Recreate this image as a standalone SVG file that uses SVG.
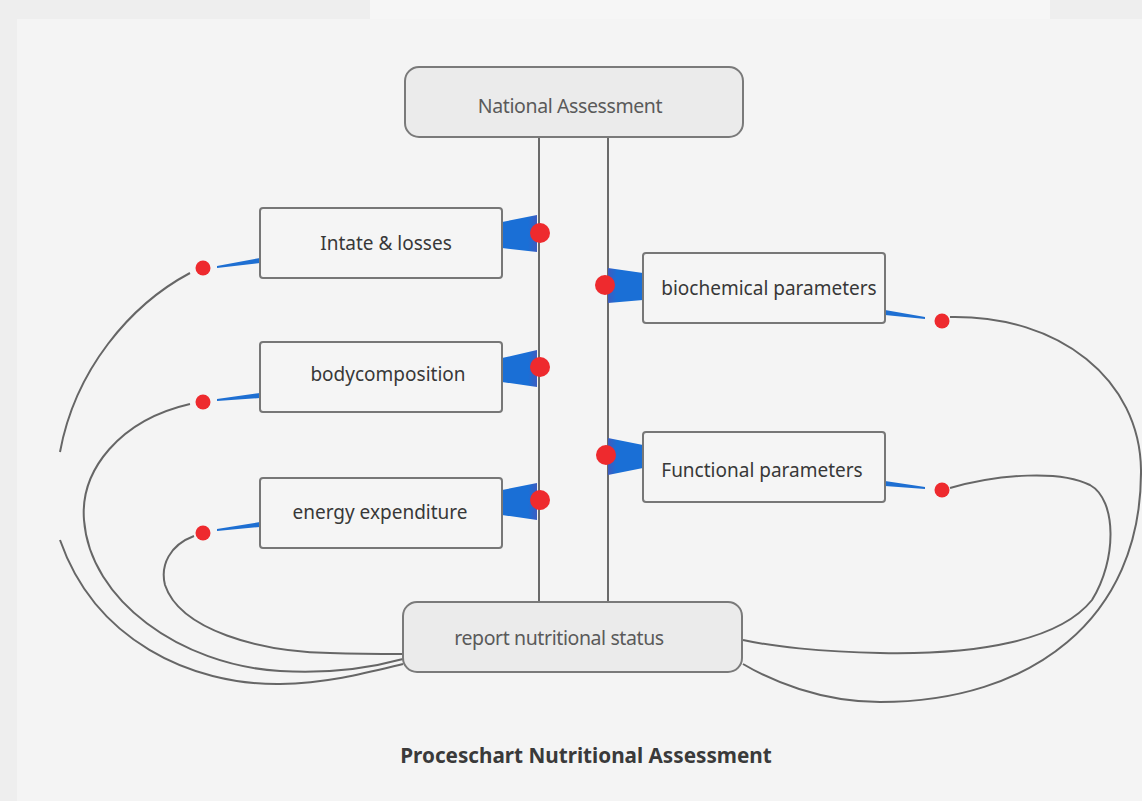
<svg xmlns="http://www.w3.org/2000/svg" width="1142" height="801" viewBox="0 0 1142 801">
<defs>
<style>
.box{fill:#f5f5f5;stroke:#777;stroke-width:2}
.rbox{fill:#ebebeb;stroke:#7a7a7a;stroke-width:2}
.lbl{font-family:"Noto Sans","Open Sans",sans-serif;font-size:19px;fill:#383838;text-anchor:middle}
.rlbl{font-family:"Noto Sans","Open Sans",sans-serif;font-size:19.5px;fill:#5a5a5a;text-anchor:middle;letter-spacing:-0.4px}
.title{font-family:"Noto Sans","Open Sans",sans-serif;font-size:20.7px;font-weight:bold;fill:#3a3a3a;text-anchor:middle}
.trunk{stroke:#6a6a6a;stroke-width:2;fill:none}
.curve{stroke:#666;stroke-width:2;fill:none}
.dotL{fill:#ee2a2e}
.dotS{fill:#ee2a2e}
.tap{fill:#1e6fd2}
</style>
<linearGradient id="gL" x1="0" y1="0" x2="1" y2="0">
<stop offset="0" stop-color="#1a6fd6"/><stop offset="0.75" stop-color="#1a6fd6"/><stop offset="1" stop-color="#3d5cc0"/>
</linearGradient>
<linearGradient id="gR" x1="1" y1="0" x2="0" y2="0">
<stop offset="0" stop-color="#1a6fd6"/><stop offset="0.75" stop-color="#1a6fd6"/><stop offset="1" stop-color="#3d5cc0"/>
</linearGradient>
</defs>
<rect x="0" y="0" width="1142" height="801" fill="#eeeeee"/>
<rect x="370" y="0" width="680" height="19" fill="#f6f6f6"/>
<rect x="17" y="19" width="1125" height="782" fill="#f4f4f4"/>

<g id="connectors">
<line class="trunk" x1="539" y1="137" x2="539" y2="603"/>
<line class="trunk" x1="608" y1="137" x2="608" y2="603"/>
<polygon fill="url(#gL)" points="502,222 537,215 537,252 502,248"/>
<polygon fill="url(#gL)" points="502,358 537,350 537,387 502,382"/>
<polygon fill="url(#gL)" points="502,490 537,483 537,520 502,515"/>
<polygon fill="url(#gR)" points="643,273 608,268 608,303 643,300"/>
<polygon fill="url(#gR)" points="643,445 608,438 608,475 643,468"/>
<circle class="dotL" cx="540" cy="233" r="10"/>
<circle class="dotL" cx="540" cy="367" r="10"/>
<circle class="dotL" cx="540" cy="500" r="10"/>
<circle class="dotL" cx="605" cy="285" r="10"/>
<circle class="dotL" cx="606" cy="455" r="10"/>
<polygon class="tap" points="260,258 260,263 217,268 217,266"/>
<polygon class="tap" points="260,393 260,398 217,401 217,399"/>
<polygon class="tap" points="260,522 260,527 217,531 217,529"/>
<polygon class="tap" points="885,310 885,315 925,319 925,317"/>
<polygon class="tap" points="885,481 885,486 925,489 925,487"/>
<circle class="dotS" cx="203" cy="268" r="7.5"/>
<circle class="dotS" cx="203" cy="402" r="7.5"/>
<circle class="dotS" cx="203" cy="533" r="7.5"/>
<circle class="dotS" cx="942" cy="321" r="7.5"/>
<circle class="dotS" cx="942" cy="490" r="7.5"/>
<path class="curve" d="M190,273 C130,305 75,370 60,452"/>
<path class="curve" d="M60,540 C95,640 190,685 280,684 C330,683 370,672 403,664"/>
<path class="curve" d="M190,404 C120,420 80,470 84,520 C90,600 180,665 280,671 C330,674 370,668 403,659"/>
<path class="curve" d="M194,536 C170,545 160,565 165,585 C180,630 260,652 330,653 C360,654 385,654 403,654"/>
<path class="curve" d="M950,317 C1060,315 1140,380 1141,470 C1142,620 1030,702 880,702 C820,702 770,680 743,664"/>
<path class="curve" d="M950,488 C1000,474 1060,470 1090,485 C1117,500 1117,560 1092,600 C1060,640 980,655 880,653 C820,652 770,646 743,640"/>
</g>

<g id="national">
<rect class="rbox" x="405" y="67" width="338" height="70" rx="14"/>
<text class="rlbl" x="570" y="113">National Assessment</text>
</g>
<g id="report">
<rect class="rbox" x="403" y="602" width="339" height="70" rx="14"/>
<text class="rlbl" x="559" y="645">report nutritional status</text>
</g>
<g id="intake">
<rect class="box" x="260" y="208" width="242" height="70" rx="3"/>
<text class="lbl" x="386" y="250">Intate &amp; losses</text>
</g>
<g id="bodycomp">
<rect class="box" x="260" y="342" width="242" height="70" rx="3"/>
<text class="lbl" x="388" y="381">bodycomposition</text>
</g>
<g id="energy">
<rect class="box" x="260" y="478" width="242" height="70" rx="3"/>
<text class="lbl" x="380" y="519">energy expenditure</text>
</g>
<g id="biochem">
<rect class="box" x="643" y="253" width="242" height="70" rx="3"/>
<text class="lbl" x="769" y="295">biochemical parameters</text>
</g>
<g id="functional">
<rect class="box" x="643" y="432" width="242" height="70" rx="3"/>
<text class="lbl" x="762" y="477">Functional parameters</text>
</g>
<g id="title">
<text class="title" x="586" y="763">Proceschart Nutritional Assessment</text>
</g>
</svg>
